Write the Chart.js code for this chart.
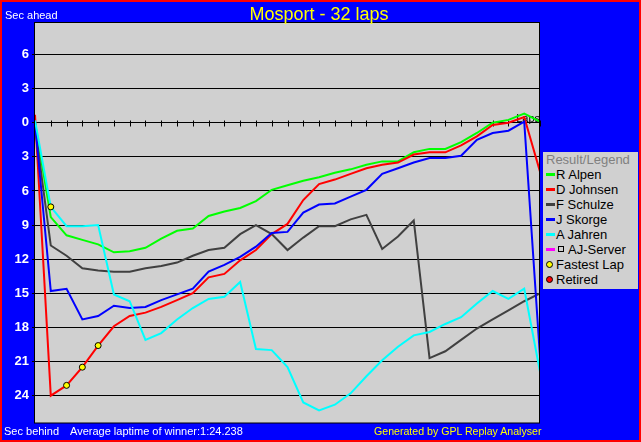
<!DOCTYPE html>
<html>
<head>
<meta charset="utf-8">
<script src="https://cdn.jsdelivr.net/npm/chart.js@4.4.1/dist/chart.umd.min.js"></script>
<style>
  html, body { margin: 0; padding: 0; background: #0000FF; }
  #wrap { position: relative; width: 641px; height: 442px; overflow: hidden; }
  canvas { position: absolute; left: 0; top: 0; }
  .t { position: absolute; white-space: nowrap; font-family: 'Liberation Sans', Arial, sans-serif; line-height: 1; }
  .s11 { font-size: 11px; }
  .s13 { font-size: 13px; }
  .mk { position: absolute; box-sizing: border-box; }
</style>
</head>
<body>
<div id="wrap">
  <canvas id="c" width="641" height="442"></canvas>
  <div class="t" style="left:0;width:638px;text-align:center;top:4.8px;font-size:18px;color:#FFFF00;">Mosport - 32 laps</div>
  <div class="t s11" style="left:5px;top:9.7px;color:#FFFFFF;">Sec ahead</div>
  <div class="t s11" style="left:4px;top:425.7px;color:#FFFFFF;">Sec behind</div>
  <div class="t s11" style="left:70px;top:425.7px;color:#FFFFFF;">Average laptime of winner:1:24.238</div>
  <div class="t" style="left:374px;top:425.9px;font-size:10.6px;color:#FFFF00;">Generated by GPL Replay Analyser</div>
  <div id="legend" class="mk" style="left:543px;top:152px;width:95px;height:137px;background:#D0D0D0;"></div>
</div>
<script>
// ---- data (seconds behind the reference; negative = ahead) ----
const laps = [0,1,2,3,4,5,6,7,8,9,10,11,12,13,14,15,16,17,18,19,20,21,22,23,24,25,26,27,28,29,30,31,32];
const alpen   = [0,8.3,9.9,10.3,10.7,11.4,11.3,11.0,10.2,9.5,9.3,8.2,7.8,7.5,6.9,5.9,5.5,5.1,4.8,4.4,4.1,3.7,3.4,3.4,2.6,2.3,2.3,1.7,0.9,0.0,-0.25,-0.8,-0.1];
const johnsen = [-0.7,24.0,23.1,21.5,19.6,17.9,17.0,16.7,16.2,15.6,15.0,13.6,13.3,12.1,11.2,9.8,8.9,6.8,5.4,5.0,4.5,4.0,3.7,3.5,2.8,2.6,2.6,2.0,1.2,0.2,0.0,-0.5,4.3];
const schulze = [0.3,10.8,11.7,12.8,13.0,13.1,13.1,12.8,12.6,12.3,11.7,11.2,11.0,9.8,9.0,9.8,11.2,10.1,9.1,9.1,8.5,8.1,11.1,10.0,8.6,20.7,20.1,19.1,18.1,17.3,16.5,15.7,15.0];
const skorge  = [0,14.8,14.6,17.3,17.0,16.1,16.3,16.2,15.6,15.1,14.6,13.1,12.5,11.8,10.9,9.7,9.6,7.9,7.2,7.1,6.5,5.9,4.5,4.0,3.5,3.1,3.1,2.9,1.5,0.9,0.7,-0.1,20.6];
const jahren  = [-0.2,7.4,9.1,9.1,9.0,15.1,15.7,19.1,18.5,17.3,16.3,15.5,15.3,14.0,19.9,20.0,21.5,24.6,25.3,24.8,23.8,22.3,20.9,19.7,18.7,18.4,17.7,17.1,15.9,14.8,15.5,14.6,21.9];
const ajServer = [];
const drivers = ['R Alpen','D Johnsen','F Schulze','J Skorge','A Jahren'];
const fastestLapDriver = ['A Jahren','D Johnsen','D Johnsen','D Johnsen'];
const fastestLapLap    = [1,2,3,4];
const retiredDriver = [];
const retiredLap = [];
const yTickValues = [-6,-3,0,3,6,9,12,15,18,21,24];
const legendTitle = 'Result/Legend';

const series = { 'R Alpen': alpen, 'D Johnsen': johnsen, 'F Schulze': schulze, 'J Skorge': skorge, 'A Jahren': jahren, 'AJ-Server': ajServer };
const colors = { 'R Alpen':'#00FF00', 'D Johnsen':'#FF0000', 'F Schulze':'#404040', 'J Skorge':'#0000FF', 'A Jahren':'#00FFFF', 'AJ-Server':'#FF00FF' };

const toXY = arr => arr.map((v, i) => ({ x: laps[i], y: v }));

const datasets = [];
const names = ['R Alpen','D Johnsen','F Schulze','J Skorge','A Jahren','AJ-Server'];
names.forEach((n, i) => {
  datasets.push({
    label: n, data: toXY(series[n]), borderColor: colors[n], backgroundColor: colors[n],
    borderWidth: 2, pointRadius: 0, tension: 0, fill: false, order: 10 - i
  });
});
datasets.push({
  label: 'Fastest Lap',
  data: fastestLapLap.map((l, i) => ({ x: l, y: series[fastestLapDriver[i]][laps.indexOf(l)] })),
  showLine: false, pointRadius: 3, pointBorderWidth: 1,
  pointBackgroundColor: '#FFFF00', pointBorderColor: '#000000', order: 0
});
datasets.push({
  label: 'Retired',
  data: retiredLap.map((l, i) => ({ x: l, y: series[retiredDriver[i]][laps.indexOf(l)] })),
  showLine: false, pointRadius: 3, pointBorderWidth: 1,
  pointBackgroundColor: '#FF0000', pointBorderColor: '#000000', order: 0
});

const frame = {
  id: 'frame',
  beforeDraw(chart) {
    const ctx = chart.ctx, a = chart.chartArea;
    ctx.save();
    ctx.fillStyle = '#0000FF';
    ctx.fillRect(0, 0, chart.width, chart.height);
    ctx.fillStyle = '#D0D0D0';
    ctx.fillRect(a.left, a.top, a.right - a.left, a.bottom - a.top);
    ctx.restore();
  },
  beforeDatasetsDraw(chart) {
    const ctx = chart.ctx, xs = chart.scales.x, ys = chart.scales.y;
    const y0 = Math.round(ys.getPixelForValue(0)) + 0.5;
    ctx.save();
    ctx.strokeStyle = '#000000';
    ctx.lineWidth = 1;
    ctx.beginPath();
    laps.forEach(l => {
      if (l === 0) return;
      const x = Math.round(xs.getPixelForValue(l)) + 0.5;
      ctx.moveTo(x, y0 - 3); ctx.lineTo(x, y0 + 3);
    });
    ctx.stroke();
    ctx.fillStyle = '#000000';
    ctx.font = "11px 'Liberation Sans', Arial, sans-serif";
    ctx.textAlign = 'right';
    ctx.textBaseline = 'alphabetic';
    ctx.fillText('Laps', xs.getPixelForValue(32), y0 - 1.5);
    ctx.restore();
  },
  afterDraw(chart) {
    const ctx = chart.ctx, a = chart.chartArea;
    ctx.save();
    ctx.strokeStyle = '#000000';
    ctx.lineWidth = 1;
    ctx.strokeRect(a.left - 0.5, a.top + 0.5, a.right - a.left, a.bottom - a.top - 0.5);
    ctx.strokeStyle = '#FF0000';
    ctx.lineWidth = 2;
    ctx.strokeRect(1, 1, chart.width - 2, chart.height - 2);
    ctx.restore();
  }
};

new Chart(document.getElementById('c'), {
  type: 'line',
  data: { datasets },
  options: {
    responsive: false,
    animation: false,
    devicePixelRatio: 1,
    layout: { padding: { left: 0, top: 22, right: 101, bottom: 19 } },
    plugins: { legend: { display: false }, tooltip: { enabled: false }, title: { display: false } },
    scales: {
      x: { type: 'linear', min: 0, max: 32, display: false },
      y: {
        type: 'linear', reverse: true, min: -8.86, max: 26.41,
        afterBuildTicks: s => { s.ticks = yTickValues.map(v => ({ value: v })); },
        afterFit: s => { s.width = 35; },
        border: { display: false },
        grid: { color: '#000000', lineWidth: 1, tickLength: 3, drawTicks: true },
        ticks: {
          color: '#FFFFFF', padding: 3,
          font: { family: "'Liberation Sans', Arial, sans-serif", size: 13, weight: 'bold' },
          callback: v => String(Math.abs(v))
        }
      }
    }
  },
  plugins: [frame]
});

// ---- legend (HTML) ----
const wrap = document.getElementById('wrap');
function addText(txt, left, baseline, color) {
  const d = document.createElement('div');
  d.className = 't s13';
  d.style.left = left + 'px';
  d.style.top = (baseline - 11.0) + 'px';
  d.style.color = color;
  d.textContent = txt;
  wrap.appendChild(d);
}
function addBox(left, top, w, h, css) {
  const d = document.createElement('div');
  d.className = 'mk';
  d.style.left = left + 'px'; d.style.top = top + 'px';
  d.style.width = w + 'px'; d.style.height = h + 'px';
  Object.assign(d.style, css);
  wrap.appendChild(d);
}
addText(legendTitle, 546, 164, '#808080');
let base = 179;
names.forEach(n => {
  addBox(546, base - 6, 9, 3, { background: colors[n] });
  if (n === 'AJ-Server') {
    addBox(558, base - 8, 6, 6, { border: '1px solid #000000' });
    addText(n, 568, base, '#000000');
  } else {
    addText(n, 556, base, '#000000');
  }
  base += 15;
});
addBox(545.5, base - 8, 7, 7, { background: '#FFFF00', border: '1px solid #000000', borderRadius: '50%' });
addText('Fastest Lap', 556, base, '#000000');
base += 15;
addBox(545.5, base - 8, 7, 7, { background: '#FF0000', border: '1px solid #000000', borderRadius: '50%' });
addText('Retired', 556, base, '#000000');
</script>
</body>
</html>
